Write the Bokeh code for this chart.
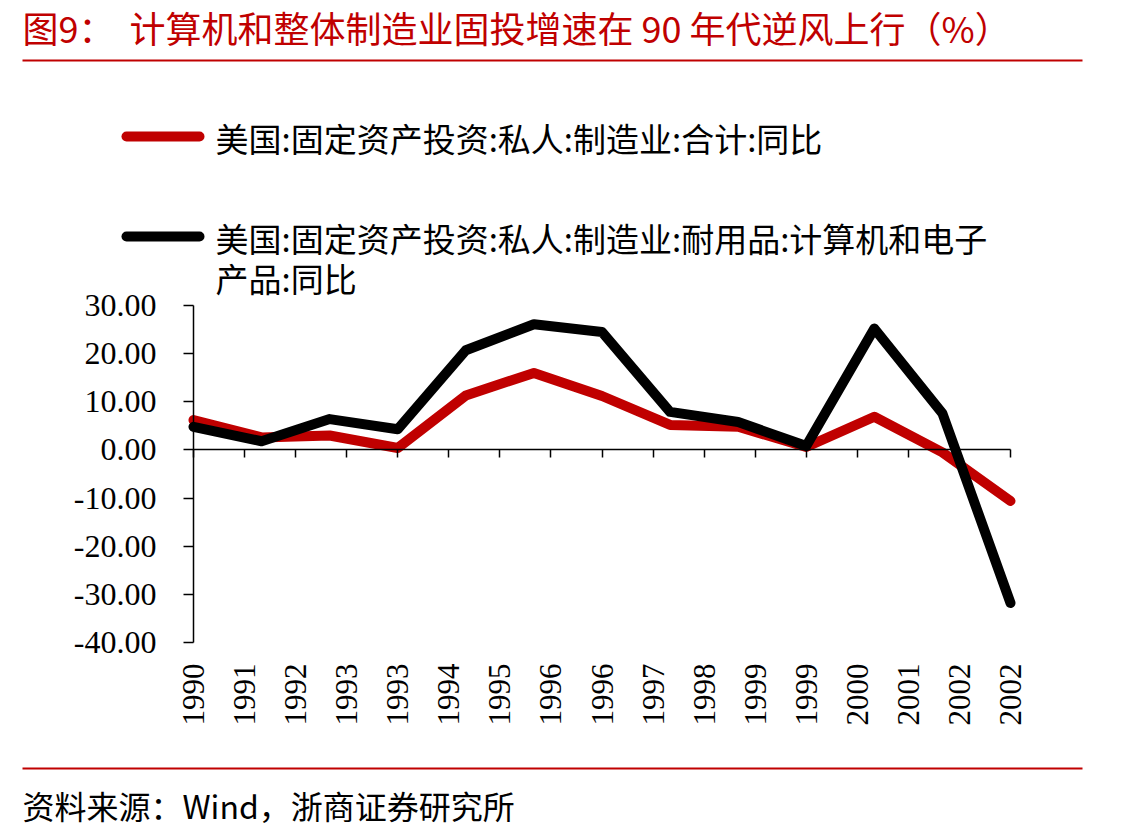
import math
import numpy as np
from bokeh.plotting import figure
from bokeh.models import LinearAxis, FixedTicker, Range1d, NumeralTickFormatter
from bokeh.core.properties import value
from bokeh.embed import file_html
from bokeh.resources import INLINE

# ---- data -------------------------------------------------------------
years = [1990, 1991, 1992, 1993, 1994, 1995, 1996, 1997, 1998, 1999, 2000, 2001, 2002]
# 美国:固定资产投资:私人:制造业:合计:同比
mfg_total = [6.2, 2.6, 3.0, 0.4, 11.3, 16.0, 11.2, 5.2, 4.8, 0.6, 6.9, -0.5, -10.6]
# 美国:固定资产投资:私人:制造业:耐用品:计算机和电子产品:同比
computers = [4.8, 1.8, 6.4, 4.3, 20.7, 26.1, 24.5, 7.9, 5.8, 0.8, 25.2, 7.6, -31.8]

tick_labels = ["1990", "1991", "1992", "1993", "1993", "1994", "1995", "1996", "1996",
               "1997", "1998", "1999", "1999", "2000", "2001", "2002", "2002"]
y_ticks = [-40, -30, -20, -10, 0, 10, 20, 30]

title_head = "图9："
title_text = "计算机和整体制造业固投增速在 90 年代逆风上行（%）"
legend_total = "美国:固定资产投资:私人:制造业:合计:同比"
legend_comp_1 = "美国:固定资产投资:私人:制造业:耐用品:计算机和电子"
legend_comp_2 = "产品:同比"
source_text = "资料来源：Wind，浙商证券研究所"

RED = "#C00000"
CJK = "Noto Sans CJK SC"
SERIF = "Liberation Serif"

# ---- page geometry ------------------------------------------------------------
W, H = 1141, 837
PX_LEFT, PX_RIGHT = 193, 1010     # where the first and last year sit on the page
PY_TOP, PY_BOTTOM = 305, 642      # where the top and bottom y ticks sit

x = [yr - years[0] for yr in years]
tick_pos = [float(v) for v in np.linspace(0, x[-1], len(tick_labels))]

# the frame fills the whole page; data ranges are stretched so that the
# plotting area lands at the page positions above
kx = (PX_RIGHT - PX_LEFT) / x[-1]
ky = (PY_BOTTOM - PY_TOP) / (y_ticks[-1] - y_ticks[0])
x_range = Range1d(-PX_LEFT / kx, (W - PX_LEFT) / kx)
y_range = Range1d(y_ticks[0] - (H - PY_BOTTOM) / ky, y_ticks[-1] + PY_TOP / ky)

p = figure(width=W, height=H, output_backend="svg", toolbar_location=None, title=None,
           x_range=x_range, y_range=y_range, x_axis_type=None, y_axis_type=None,
           min_border=0)
p.extra_x_ranges = {"px": Range1d(0, W)}
p.extra_y_ranges = {"py": Range1d(H, 0)}
p.outline_line_color = None
p.background_fill_color = "white"
p.border_fill_color = "white"

# y axis pinned at the first year
ya = LinearAxis(fixed_location=0, bounds=(y_ticks[0], y_ticks[-1]),
                ticker=FixedTicker(ticks=y_ticks, minor_ticks=[]),
                formatter=NumeralTickFormatter(format="0.00"))
ya.axis_line_color = "black"
ya.axis_line_width = 1.5
ya.major_tick_line_color = "black"
ya.major_tick_line_width = 1.5
ya.major_tick_out = 10
ya.major_tick_in = 0
ya.major_label_standoff = 27
ya.major_label_text_font = SERIF
ya.major_label_text_font_size = "32px"
ya.major_label_text_color = "black"
p.add_layout(ya, "left")

# year labels under the plotting area
xa = LinearAxis(fixed_location=y_ticks[0], bounds=(0, x[-1]),
                ticker=FixedTicker(ticks=tick_pos, minor_ticks=[]))
xa.major_label_overrides = {t: lab for t, lab in zip(tick_pos, tick_labels)}
xa.major_label_orientation = math.pi / 2
xa.axis_line_color = None
xa.major_tick_line_color = None
xa.major_tick_out = 0
xa.major_tick_in = 0
xa.major_label_standoff = 21
xa.major_label_text_font = SERIF
xa.major_label_text_font_size = "31px"
xa.major_label_text_color = "black"
p.add_layout(xa, "below")

# axis line with ticks crossing at zero
zero_axis = LinearAxis(fixed_location=0, bounds=(0, x[-1]),
                       ticker=FixedTicker(ticks=tick_pos, minor_ticks=[]))
zero_axis.axis_line_color = "black"
zero_axis.axis_line_width = 1.5
zero_axis.major_tick_line_color = "black"
zero_axis.major_tick_line_width = 1.5
zero_axis.major_tick_out = 8
zero_axis.major_tick_in = 0
zero_axis.major_label_text_color = None
zero_axis.major_label_text_font_size = "1px"
p.add_layout(zero_axis, "below")

# series
p.line(x, mfg_total, line_color=RED, line_width=10, line_cap="round", line_join="round")
p.line(x, computers, line_color="black", line_width=10, line_cap="round", line_join="round")


# ---- title, legend and source, placed in page pixels ---------------------------
def put_text(px, py, s, size, color="black"):
    p.text(x=[px], y=[py], text=[s], text_font=value(CJK), text_font_size=value(size),
           text_color=color, text_align="left", text_baseline="middle",
           x_range_name="px", y_range_name="py")


def put_line(x0, x1, py, width, color, cap="butt"):
    p.line(x=[x0, x1], y=[py, py], line_color=color, line_width=width, line_cap=cap,
           x_range_name="px", y_range_name="py")


put_text(22, 26, title_head, "36px", RED)
put_text(129, 26, title_text, "36px", RED)
put_line(22, 1082, 60, 2, RED)

put_line(126, 199, 136, 10, RED, "round")
put_text(215, 137, legend_total, "33px")
put_line(126, 199, 236, 10, "black", "round")
put_text(215, 237, legend_comp_1, "33px")
put_text(215, 277, legend_comp_2, "33px")

put_line(22, 1082, 768, 2, RED)
put_text(22, 804, source_text, "32px")

open("out.html", "w").write(file_html(p, INLINE))
